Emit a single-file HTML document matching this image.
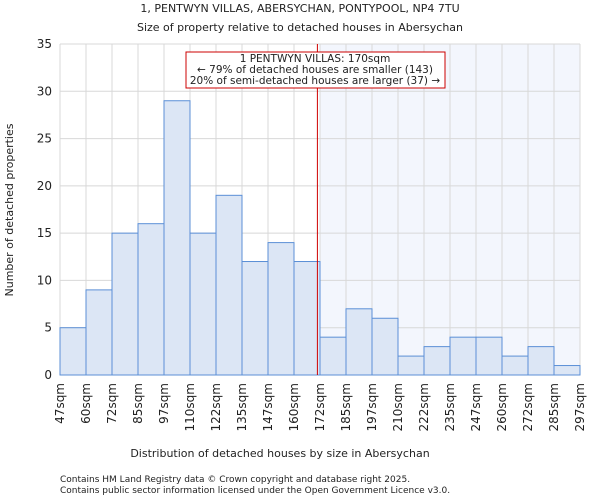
<!DOCTYPE html>
<html><head><meta charset="utf-8"><style>
body{margin:0;background:#fff;font-family:"DejaVu Sans","Liberation Sans",sans-serif;}
svg text{font-family:"DejaVu Sans","Liberation Sans",sans-serif;fill:#222;}
</style></head><body>
<svg id="chart" width="600" height="500" xmlns="http://www.w3.org/2000/svg">
<text x="300" y="12" font-size="11" text-anchor="middle">1, PENTWYN VILLAS, ABERSYCHAN, PONTYPOOL, NP4 7TU</text>
<text x="300" y="31" font-size="11" text-anchor="middle">Size of property relative to detached houses in Abersychan</text>
<g id="plot"></g>
<text x="280" y="457" font-size="11" text-anchor="middle">Distribution of detached houses by size in Abersychan</text>
<text transform="translate(13,210) rotate(-90)" font-size="11" text-anchor="middle">Number of detached properties</text>
<text x="60" y="482" font-size="9" fill="#444">Contains HM Land Registry data © Crown copyright and database right 2025.</text>
<text x="60" y="493" font-size="9" fill="#444">Contains public sector information licensed under the Open Government Licence v3.0.</text>
</svg>
<script>
const categories=["47sqm","60sqm","72sqm","85sqm","97sqm","110sqm","122sqm","135sqm","147sqm","160sqm","172sqm","185sqm","197sqm","210sqm","222sqm","235sqm","247sqm","260sqm","272sqm","285sqm","297sqm"];
const counts=[5,9,15,16,29,15,19,12,14,12,4,7,6,2,3,4,4,2,3,1];
const yTicks=[0,5,10,15,20,25,30,35];
const propertyBin=9.9;
const shadeStartBin=10;
const NS="http://www.w3.org/2000/svg";
const g=document.getElementById('plot');
const X0=60,X1=580,Y0=375,Y1=44,YMAX=35;
const bw=(X1-X0)/counts.length;
const x=i=>X0+i*bw;
const y=v=>Y0-(v/YMAX)*(Y0-Y1);
function mk(t,a){const e=document.createElementNS(NS,t);for(const k in a)e.setAttribute(k,a[k]);g.appendChild(e);return e;}
let e;
e=mk('rect',{x:x(shadeStartBin),y:Y1,width:X1-x(shadeStartBin),height:Y0-Y1,fill:'#f3f6fd'});


for(let i=0;i<=counts.length;i++){e=mk('line',{x1:x(i),x2:x(i),y1:Y1,y2:Y0,stroke:'#d8d8d8','stroke-width':1});

}
yTicks.forEach(t=>{e=mk('line',{x1:X0,x2:X1,y1:y(t),y2:y(t),stroke:'#d8d8d8','stroke-width':1});


e=mk('text',{x:X0-8,y:y(t)+4,'font-size':12,'text-anchor':'end'});e.textContent=t;

});
counts.forEach((c,i)=>{e=mk('rect',{x:x(i),y:y(c),width:bw,height:Y0-y(c),fill:'#dce6f5',stroke:'#5b8fd6','stroke-width':1});

});
categories.forEach((c,i)=>{e=mk('text',{transform:`translate(${x(i)+4},${Y0+8}) rotate(-90)`,'font-size':12,'text-anchor':'end'});e.textContent=c;

});
const px=x(propertyBin);
e=mk('line',{x1:px,x2:px,y1:Y1,y2:Y0,stroke:'#d00000','stroke-width':1});


e=mk('rect',{x:186,y:52,width:259,height:36,fill:'#fff',stroke:'#cc0000','stroke-width':1});


["1 PENTWYN VILLAS: 170sqm","← 79% of detached houses are smaller (143)","20% of semi-detached houses are larger (37) →"].forEach((s,k)=>{
e=mk('text',{x:315,y:62+k*11,'font-size':10.5,'text-anchor':'middle'});e.textContent=s;

});
</script>
</body></html>
